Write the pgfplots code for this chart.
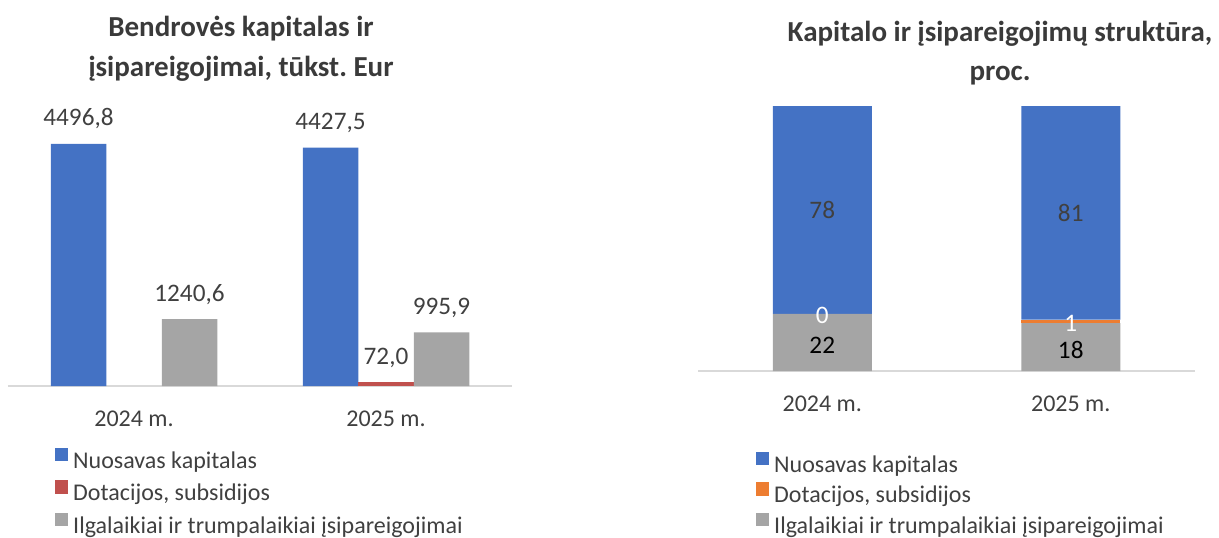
\documentclass[border=0pt]{standalone}
\usepackage{fontspec}
\setmainfont{Carlito}
\usepackage{pgfplots}
\pgfplotsset{compat=1.18}
\definecolor{cblue}{HTML}{4472C4}
\definecolor{cred}{HTML}{C0504D}
\definecolor{corange}{HTML}{ED7D31}
\definecolor{cgray}{HTML}{A5A5A5}
\definecolor{axgray}{HTML}{D9D9D9}
\definecolor{txt}{HTML}{404040}
\definecolor{ttl}{HTML}{3A3A3A}
\newcommand{\lbl}{\fontsize{12pt}{14pt}\selectfont}
\newcommand{\dlbl}{\fontsize{12.6pt}{14pt}\selectfont}
\newcommand{\ttlf}{\fontsize{14.5pt}{17pt}\selectfont\bfseries}
\frenchspacing
\begin{document}
\begin{tikzpicture}
\useasboundingbox (0,0) rectangle (609.5pt,268.5pt);
\pgfplotsset{
  common/.style={
    anchor=south west, scale only axis,
    xmin=-0.5, xmax=1.5, ymin=0,
    axis x line=bottom, axis y line=none,
    x axis line style={draw=axgray, line width=1pt, -},
    xtick={0,1}, xticklabels={2024 m., 2025 m.}, major tick length=0pt,
    xticklabel style={anchor=base, yshift=-20pt, font=\lbl, text=txt},
    ytick=\empty, clip=false,
    legend cell align=left,
  },
  sqlegend/.style={
    legend image code/.code={\fill[##1] (0pt,0.6pt) rectangle (6.6pt,7.2pt);},
  },
}
% ---------- left chart ----------
\node[anchor=base, font=\ttlf, text=ttl] at (120.5pt,250.5pt) {Bendrovės kapitalas ir};
\node[anchor=base, font=\ttlf, text=ttl] at (120.5pt,230.5pt) {įsipareigojimai, tūkst. Eur};
\begin{axis}[common,
  at={(4pt,75.5pt)}, width=252pt, height=121pt, ymax=4496.8,
  ybar=0pt, bar width=27.75pt, sqlegend,
  nodes near coords,
  nodes near coords style={anchor=base, yshift=9pt, font=\dlbl, text=txt},
  /pgf/number format/.cd, fixed, fixed zerofill, precision=1, use comma, 1000 sep={}, assume math mode=true,
  /pgfplots/.cd,
  legend style={at={(0.0933,-0.2562)}, anchor=north west, draw=none, fill=none,
    inner sep=0pt, outer sep=0pt, row sep=4pt, font=\lbl, text=txt,
    nodes={inner xsep=2.5pt, inner ysep=0pt, text height=8pt, text depth=2pt}},
]
\addplot[fill=cblue, draw=none] coordinates {(0,4496.8) (1,4427.5)};
\addplot[fill=cred, draw=none] coordinates {(1,72.0)};
\addplot[fill=cgray, draw=none] coordinates {(0,1240.6) (1,995.9)};
\legend{Nuosavas kapitalas, {Dotacijos, subsidijos}, Ilgalaikiai ir trumpalaikiai įsipareigojimai}
\end{axis}
% ---------- right chart ----------
\node[anchor=base, font=\ttlf, text=ttl] at (500pt,247.5pt) {Kapitalo ir įsipareigojimų struktūra,};
\node[anchor=base, font=\ttlf, text=ttl] at (500pt,228.5pt) {proc.};
\begin{axis}[common,
  at={(349pt,83pt)}, width=248.5pt, height=132.5pt, ymax=100,
  ybar stacked, bar width=49.5pt, sqlegend,
  reverse legend,
  legend style={at={(0.1167,-0.3057)}, anchor=north west, draw=none, fill=none,
    inner sep=0pt, outer sep=0pt, row sep=3pt, font=\lbl, text=txt,
    nodes={inner xsep=2.5pt, inner ysep=0pt, text height=8pt, text depth=2pt}},
]
\addplot[fill=cgray, draw=none] coordinates {(0,21.6) (1,18.1)};
\addplot[fill=corange, draw=none] coordinates {(0,0) (1,1.3)};
\addplot[fill=cblue, draw=none] coordinates {(0,78.4) (1,80.6)};
\legend{Ilgalaikiai ir trumpalaikiai įsipareigojimai, {Dotacijos, subsidijos}, Nuosavas kapitalas}
\end{axis}
% labels for stacked bars
\begin{axis}[
  anchor=south west, scale only axis, at={(349pt,83pt)}, width=248.5pt, height=132.5pt,
  xmin=-0.5, xmax=1.5, ymin=0, ymax=100, hide axis, clip=false,
  nodes near coords, point meta=explicit symbolic,
  nodes near coords style={anchor=center, font=\dlbl},
]
\addplot[draw=none, mark=none, every node near coord/.append style={text=txt}] coordinates {(0,60.8) [78] (1,59.7) [81]};
\addplot[draw=none, mark=none, every node near coord/.append style={text=white}] coordinates {(0,21.0) [0] (1,18.1) [1]};
\addplot[draw=none, mark=none, every node near coord/.append style={text=black}] coordinates {(0,9.6) [22] (1,7.8) [18]};
\end{axis}
\end{tikzpicture}
\end{document}
